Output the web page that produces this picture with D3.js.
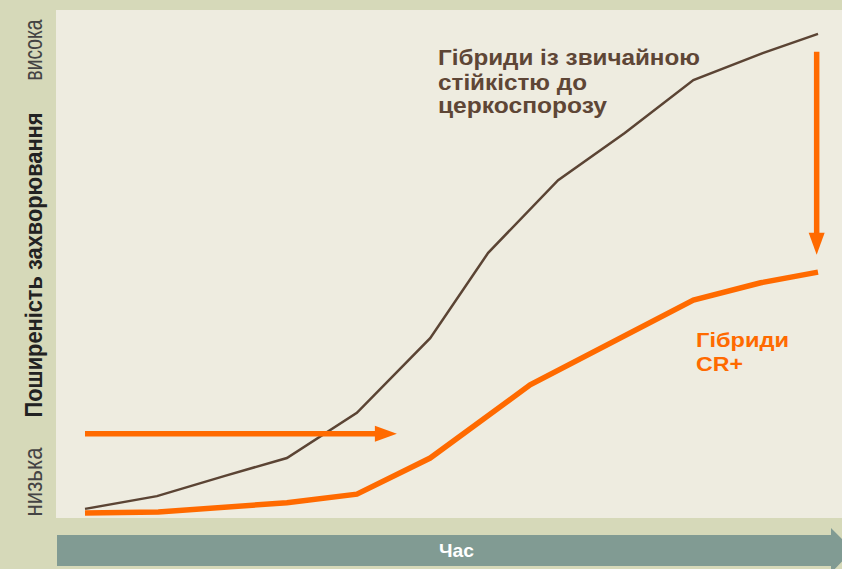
<!DOCTYPE html>
<html><head><meta charset="utf-8">
<script src="https://cdn.jsdelivr.net/npm/d3@7"></script>
<style>html,body{margin:0;padding:0;background:#d6d9b9;}svg{display:block;}</style>
</head><body>
<script>
// Data (time index, disease level 0-100)
const conventionalT = [0, 1.08, 2.1, 3.03, 4.08, 5.18, 6.05, 7.1, 8.1, 9.13, 10.17, 11];
const conventionalV = [1.8, 4.3, 8.3, 11.8, 20.7, 35.4, 52.2, 66.5, 75.8, 86.2, 91.5, 95.3];
const crT = [0, 1.1, 3.03, 4.08, 5.18, 6.68, 9.13, 10.14, 11];
const crV = [1.0, 1.2, 3.0, 4.7, 11.8, 26.2, 42.9, 46.3, 48.4];
const seriesLabels = [["Гібриди із звичайною", "стійкістю до", "церкоспорозу"], ["Гібриди", "CR+"]];
const yLabels = ["низька", "Поширеність захворювання", "висока"];
const xLabel = "Час";
// arrows: horizontal (delay), vertical (reduction)
const delayArrow = {t0: 0, t1: 4.68, v: 16.6};
const reductionArrow = {t: 10.98, v0: 91.8, v1: 51.8};

const W = 842, H = 569;
const svg = d3.select("body").append("svg").attr("width", W).attr("height", H);
svg.append("rect").attr("width", W).attr("height", H).attr("fill", "#d6d9b9");
const plot = {l: 56, t: 10, r: 842, b: 518};
svg.append("rect").attr("x", plot.l).attr("y", plot.t).attr("width", plot.r - plot.l).attr("height", plot.b - plot.t).attr("fill", "#eeece0");

const x = d3.scaleLinear().domain([0, 11]).range([85, 818]);
const y = d3.scaleLinear().domain([0, 100]).range([518, 10]);

const line = d3.line().x(d => x(d[0])).y(d => y(d[1]));
svg.append("path").datum(d3.zip(conventionalT, conventionalV)).attr("d", line)
  .attr("fill", "none").attr("stroke", "#5b4434").attr("stroke-width", 2.5).attr("stroke-linejoin", "miter");
svg.append("path").datum(d3.zip(crT, crV)).attr("d", line)
  .attr("fill", "none").attr("stroke", "#ff6a00").attr("stroke-width", 5.5).attr("stroke-linejoin", "miter");

// horizontal arrow
const orange = "#ff6a00";
const hx0 = x(delayArrow.t0), hx1 = x(delayArrow.t1), hy = y(delayArrow.v);
svg.append("line").attr("x1", hx0).attr("x2", hx1 - 20).attr("y1", hy).attr("y2", hy).attr("stroke", orange).attr("stroke-width", 5.5);
svg.append("path").attr("d", `M${hx1 - 22},${hy - 8}L${hx1},${hy}L${hx1 - 22},${hy + 8}Z`).attr("fill", orange);
// vertical arrow
const vx = x(reductionArrow.t), vy0 = y(reductionArrow.v0), vy1 = y(reductionArrow.v1);
svg.append("line").attr("x1", vx).attr("x2", vx).attr("y1", vy0).attr("y2", vy1 - 20).attr("stroke", orange).attr("stroke-width", 5.5);
svg.append("path").attr("d", `M${vx - 8},${vy1 - 22}L${vx},${vy1}L${vx + 8},${vy1 - 22}Z`).attr("fill", orange);

// series labels
const font = "'Liberation Sans', Arial, sans-serif";
const brownLines = seriesLabels[0];
const brownBase = [65, 90, 113], brownLen = [262, 149, 169];
brownLines.forEach((t, i) => {
  svg.append("text").attr("x", 438).attr("y", brownBase[i]).text(t)
    .attr("font-family", font).attr("font-weight", "bold").attr("font-size", 22)
    .attr("fill", "#5e4636").attr("textLength", brownLen[i]).attr("lengthAdjust", "spacingAndGlyphs");
});
const orBase = [347, 371], orLen = [93, 47];
seriesLabels[1].forEach((t, i) => {
  svg.append("text").attr("x", 696).attr("y", orBase[i]).text(t)
    .attr("font-family", font).attr("font-weight", "bold").attr("font-size", 21)
    .attr("fill", orange).attr("textLength", orLen[i]).attr("lengthAdjust", "spacingAndGlyphs");
});

// y labels (rotated)
const yPos = [482, 265, 50], yLen = [69, 305, 61];
yLabels.forEach((t, i) => {
  svg.append("text").attr("transform", `translate(42,${yPos[i]}) rotate(-90)`)
    .attr("text-anchor", "middle").text(t)
    .attr("font-family", font).attr("font-weight", i === 1 ? "bold" : "normal")
    .attr("font-size", i === 1 ? 23 : 25).attr("fill", i === 1 ? "#222" : "#444")
    .attr("textLength", yLen[i]).attr("lengthAdjust", "spacingAndGlyphs");
});

// time arrow bar
svg.append("path").attr("d", "M57,535L831,535L831,528L853,550L831,573L831,566L57,566Z").attr("fill", "#819b93");
svg.append("text").attr("x", 456.5).attr("y", 557).attr("text-anchor", "middle").text(xLabel)
  .attr("font-family", font).attr("font-weight", "bold").attr("font-size", 19).attr("fill", "#fff")
  .attr("textLength", 35).attr("lengthAdjust", "spacingAndGlyphs");
</script>
</body></html>
